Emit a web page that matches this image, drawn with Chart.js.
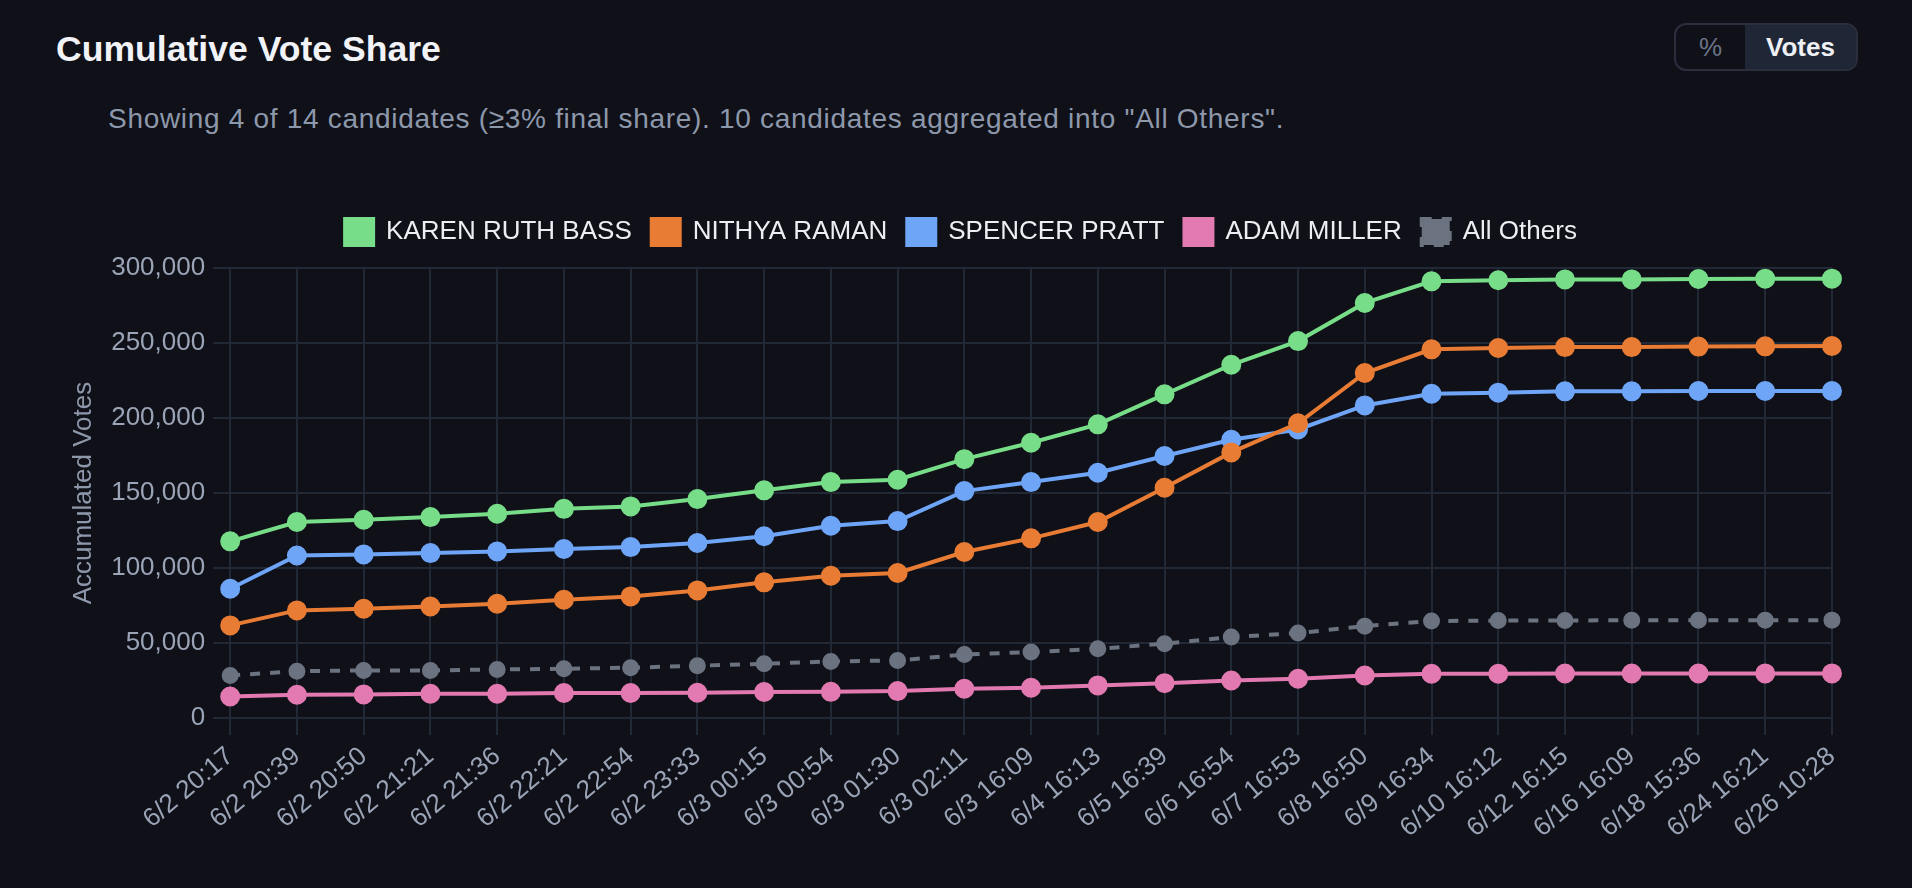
<!DOCTYPE html>
<html>
<head>
<meta charset="utf-8">
<title>Cumulative Vote Share</title>
<script src="https://cdn.jsdelivr.net/npm/chart.js@4.4.1/dist/chart.umd.min.js"></script>
<style>
  html, body { margin: 0; padding: 0; background: #0f1018; }
  body { width: 1912px; height: 888px; position: relative; overflow: hidden; font-family: "Liberation Sans", Arial, sans-serif; }
  .title { position: absolute; left: 56px; top: 30px; margin: 0; font-size: 35.6px; font-weight: 700; color: #f1f3f7; line-height: 38px; }
  .sub { position: absolute; left: 108px; top: 103px; margin: 0; font-size: 28px; letter-spacing: 0.7px; color: #8e98ab; line-height: 32px; }
  .toggle { position: absolute; left: 1674px; top: 23px; width: 180px; height: 44px; border: 2px solid #2a2e3d; border-radius: 12px; overflow: hidden; display: flex; }
  .toggle span { display: flex; align-items: center; justify-content: center; font-size: 26px; }
  .toggle .pct { width: 69px; color: #6b7385; }
  .toggle .votes { flex: 1; background: #1f2636; color: #eef0f4; font-weight: 700; }
  #wrap { position: absolute; left: 64px; top: 199px; width: 1794px; height: 651px; }
</style>
</head>
<body>
<h2 class="title">Cumulative Vote Share</h2>
<p class="sub">Showing 4 of 14 candidates (≥3% final share). 10 candidates aggregated into "All Others".</p>
<div class="toggle"><span class="pct">%</span><span class="votes">Votes</span></div>
<div id="wrap"><canvas id="voteChart" width="1794" height="651"></canvas></div>
<script>
const labels = ['6/2 20:17', '6/2 20:39', '6/2 20:50', '6/2 21:21', '6/2 21:36', '6/2 22:21', '6/2 22:54', '6/2 23:33',
    '6/3 00:15', '6/3 00:54', '6/3 01:30', '6/3 02:11', '6/3 16:09', '6/4 16:13', '6/5 16:39', '6/6 16:54',
    '6/7 16:53', '6/8 16:50', '6/9 16:34', '6/10 16:12', '6/12 16:15', '6/16 16:09', '6/18 15:36', '6/24 16:21', '6/26 10:28'];

const bass = [117800, 130700, 132200, 134000, 136200, 139500, 141100, 146000, 151800, 157300, 158900, 172600, 183500,
    195800, 215800, 235500, 251300, 276700, 291100, 291800, 292400, 292400, 292700, 292900, 292900];
const raman = [61800, 71800, 72900, 74400, 76200, 78900, 81100, 85100, 90500, 94900, 96700, 110700, 119800,
    130700, 153500, 177100, 196500, 230000, 245800, 246700, 247300, 247300, 247600, 247800, 248000];
const pratt = [86200, 108400, 109100, 110000, 111100, 112700, 114000, 116700, 121200, 128200, 131300, 151300, 157300,
    163500, 174700, 185500, 192400, 208400, 216200, 216900, 217800, 217800, 218000, 218000, 218000];
const miller = [14400, 15600, 15800, 16200, 16200, 16700, 16700, 16900, 17400, 17500, 18000, 19600, 20200,
    21800, 23300, 25100, 26200, 28400, 29600, 29600, 29700, 29700, 29700, 29800, 29800];
const others = [28400, 31300, 31800, 31800, 32400, 32900, 33600, 34900, 36200, 37800, 38400, 42400, 44000,
    46200, 49600, 54000, 56700, 61300, 64700, 65000, 65100, 65200, 65200, 65300, 65300];

const yTicks = { min: 0, max: 300000, step: 50000 };

const family = '"Liberation Sans", Arial, sans-serif';
const font = { family: family, size: 26 };
const tickColor = '#9aa4b6';
const gridColor = '#212836';

function series(label, data, color, dashed) {
    return {
        label: label,
        data: data,
        borderColor: color,
        backgroundColor: color,
        pointBackgroundColor: color,
        pointBorderColor: color,
        borderWidth: 4,
        pointRadius: dashed ? 7.5 : 9,
        pointBorderWidth: 2,
        borderDash: dashed ? [10, 10] : [],
        tension: 0
    };
}

// a bit more room under the legend row
const legendGap = {
    id: 'legendGap',
    beforeInit(chart) {
        const fit = chart.legend.fit;
        chart.legend.fit = function () {
            fit.call(this);
            this.height += 13;
        };
    }
};

const ctx = document.getElementById('voteChart').getContext('2d');
const voteChart = new Chart(ctx, {
    type: 'line',
    data: {
        labels: labels,
        datasets: [
            series('KAREN RUTH BASS', bass, '#77dd88', false),
            series('NITHYA RAMAN', raman, '#e97c34', false),
            series('SPENCER PRATT', pratt, '#6fa5f6', false),
            series('ADAM MILLER', miller, '#e27ab1', false),
            series('All Others', others, '#6b7280', true)
        ]
    },
    options: {
        responsive: false,
        animation: false,
        devicePixelRatio: 1,
        plugins: {
            legend: {
                position: 'top',
                labels: {
                    color: '#eceef3',
                    font: font,
                    boxWidth: 28,
                    boxHeight: 26,
                    padding: 20
                }
            },
            tooltip: { enabled: false }
        },
        scales: {
            x: {
                grid: { color: gridColor, lineWidth: 2, tickLength: 17 },
                border: { color: gridColor, width: 2 },
                ticks: {
                    color: tickColor,
                    font: font,
                    maxRotation: 40,
                    minRotation: 40,
                    autoSkip: false,
                    padding: 6
                }
            },
            y: {
                min: yTicks.min,
                max: yTicks.max,
                grid: { color: gridColor, lineWidth: 2, tickLength: 17 },
                border: { color: gridColor, width: 2 },
                ticks: {
                    color: tickColor,
                    font: font,
                    stepSize: yTicks.step,
                    padding: 8,
                    callback: (v) => v.toLocaleString('en-US')
                },
                title: {
                    display: true,
                    text: 'Accumulated Votes',
                    color: '#8e98ab',
                    font: font,
                    padding: { top: 4, bottom: 4 }
                }
            }
        }
    },
    plugins: [legendGap]
});
</script>
</body>
</html>
